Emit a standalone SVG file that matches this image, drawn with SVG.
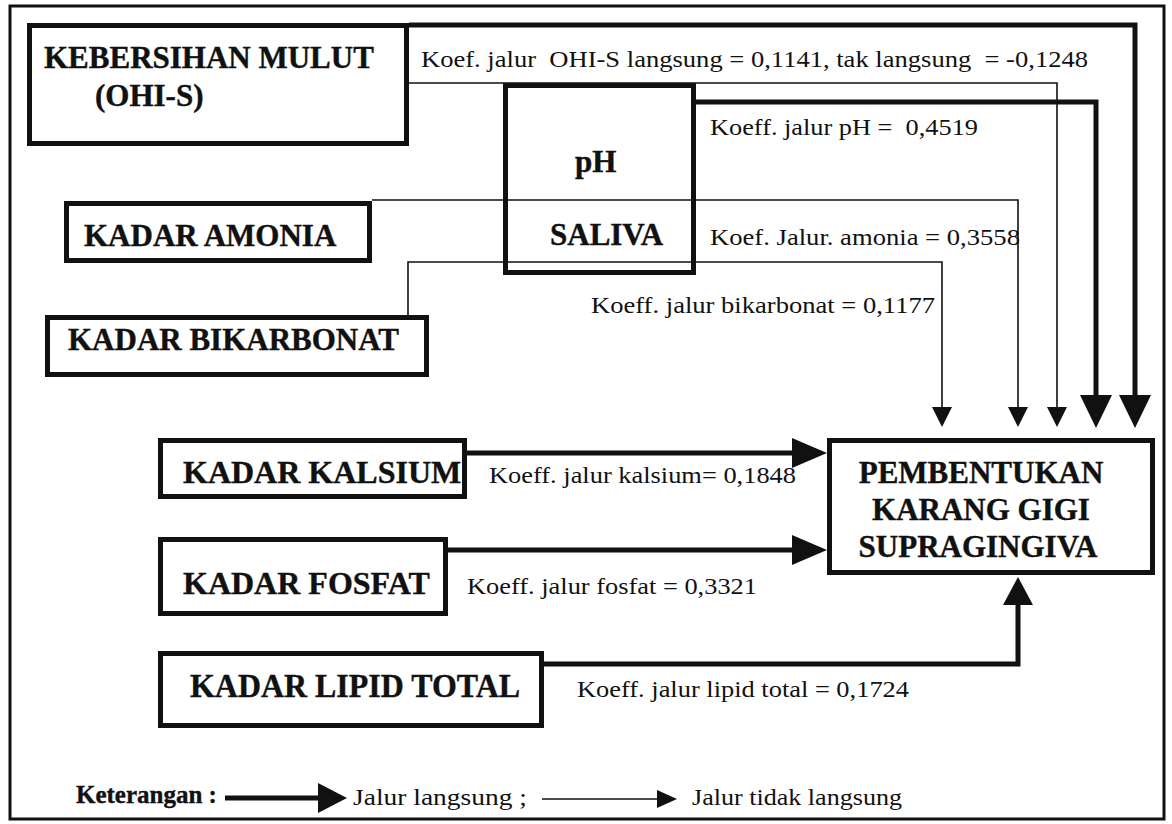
<svg xmlns="http://www.w3.org/2000/svg" width="1172" height="824" viewBox="0 0 1172 824">
<style>
.box{fill:#fff;stroke:#111;stroke-width:5}
.frame{fill:#fff;stroke:#111;stroke-width:3}
.bt{font-family:"Liberation Serif","Tinos","Times New Roman","Nimbus Roman",Times,serif;font-weight:bold;font-size:31px;fill:#111;stroke:#111;stroke-width:0.4}
.lt{font-family:"Liberation Serif","Tinos","Times New Roman","Nimbus Roman",Times,serif;font-size:23px;fill:#111;white-space:pre}
.thick{fill:none;stroke:#111;stroke-width:5}
.thin{fill:none;stroke:#111;stroke-width:1.6}
.head{fill:#111}
</style>
<rect class="frame" x="10" y="6" width="1154" height="813"/>

<g id="connectors">
  <path class="thick" d="M409,25 H1135 V400"/>
  <polygon class="head" points="1119,395 1151,395 1135,428"/>
  <path class="thin" d="M409,83 H1057 V410"/>
  <polygon class="head" points="1047,407 1067,407 1057,427"/>
  <path class="thick" d="M696,102 H1096 V400"/>
  <polygon class="head" points="1080,395 1112,395 1096,428"/>
  <path class="thin" d="M372,200 H1018 V410"/>
  <polygon class="head" points="1008,407 1028,407 1018,427"/>
  <path class="thin" d="M408,315 V262 H942 V410"/>
  <polygon class="head" points="932,407 952,407 942,427"/>
  <path class="thick" d="M467,453 H796"/>
  <polygon class="head" points="792,438 792,468 827,453"/>
  <path class="thick" d="M448,550 H796"/>
  <polygon class="head" points="792,535 792,565 827,550"/>
  <path class="thick" d="M544,664 H1018 V600"/>
  <polygon class="head" points="1003,605 1033,605 1018,577"/>
</g>

<g id="node-ohis">
  <rect class="box" x="29.5" y="25.5" width="377" height="118"/>
  <text class="bt" x="44" y="68">KEBERSIHAN MULUT</text>
  <text class="bt" x="95" y="106">(OHI-S)</text>
</g>

<g id="node-ph">
  <rect class="box" x="505.5" y="85.5" width="188" height="187" style="fill:none"/>
  <text class="bt" x="575" y="172">pH</text>
  <text class="bt" x="550" y="245">SALIVA</text>
</g>

<g id="node-amonia">
  <rect class="box" x="66.5" y="203.5" width="303" height="57"/>
  <text class="bt" x="84" y="246">KADAR AMONIA</text>
</g>

<g id="node-bikarbonat">
  <rect class="box" x="47.5" y="317.5" width="379" height="57"/>
  <text class="bt" x="68" y="350">KADAR BIKARBONAT</text>
</g>

<g id="node-kalsium">
  <rect class="box" x="160.5" y="440.5" width="304" height="56"/>
  <text class="bt" x="183" y="483" style="font-size:32px">KADAR KALSIUM</text>
</g>

<g id="node-fosfat">
  <rect class="box" x="160.5" y="539.5" width="285" height="74"/>
  <text class="bt" x="183" y="594" style="font-size:32px">KADAR FOSFAT</text>
</g>

<g id="node-lipid">
  <rect class="box" x="160.5" y="653.5" width="381" height="72"/>
  <text class="bt" x="190" y="697" style="font-size:34px" textLength="330" lengthAdjust="spacingAndGlyphs">KADAR LIPID TOTAL</text>
</g>

<g id="node-karang">
  <rect class="box" x="829.5" y="440.5" width="323" height="132"/>
  <text class="bt" x="981" y="483" text-anchor="middle">PEMBENTUKAN</text>
  <text class="bt" x="981" y="520" text-anchor="middle">KARANG GIGI</text>
  <text class="bt" x="978" y="557" text-anchor="middle">SUPRAGINGIVA</text>
</g>

<g id="labels">
  <text class="lt" x="421" y="67" textLength="667" lengthAdjust="spacingAndGlyphs">Koef. jalur  OHI-S langsung = 0,1141, tak langsung  = -0,1248</text>
  <text class="lt" x="710" y="135" textLength="268" lengthAdjust="spacingAndGlyphs">Koeff. jalur pH =  0,4519</text>
  <text class="lt" x="710" y="245" textLength="310" lengthAdjust="spacingAndGlyphs">Koef. Jalur. amonia = 0,3558</text>
  <text class="lt" x="591" y="313" textLength="344" lengthAdjust="spacingAndGlyphs">Koeff. jalur bikarbonat = 0,1177</text>
  <text class="lt" x="489" y="483" textLength="307" lengthAdjust="spacingAndGlyphs">Koeff. jalur kalsium= 0,1848</text>
  <text class="lt" x="467" y="594" textLength="290" lengthAdjust="spacingAndGlyphs">Koeff. jalur fosfat = 0,3321</text>
  <text class="lt" x="577" y="697" textLength="332" lengthAdjust="spacingAndGlyphs">Koeff. jalur lipid total = 0,1724</text>
</g>

<g id="legend">
  <text class="bt" x="76" y="803" style="font-size:25px">Keterangan :</text>
  <path class="thick" d="M225,798 H322"/>
  <polygon class="head" points="318,783 347,798 318,813"/>
  <text class="lt" x="353" y="805" textLength="174" lengthAdjust="spacingAndGlyphs">Jalur langsung ;</text>
  <path class="thin" d="M542,799 H660"/>
  <polygon class="head" points="657,790 677,799 657,808"/>
  <text class="lt" x="692" y="805" textLength="210" lengthAdjust="spacingAndGlyphs">Jalur tidak langsung</text>
</g>
</svg>
